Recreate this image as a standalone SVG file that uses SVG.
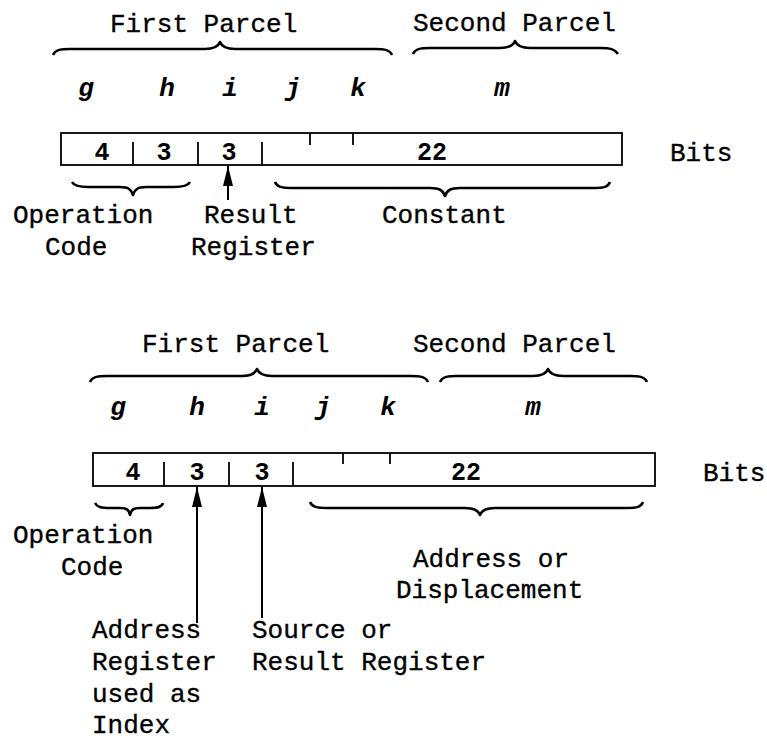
<svg xmlns="http://www.w3.org/2000/svg" width="767" height="740" viewBox="0 0 767 740">
<style>
text{font-family:"Liberation Mono","Courier New",monospace;fill:#000}
.t{font-size:26px;stroke:#000;stroke-width:0.35}
.v{font-size:26px;font-style:italic;font-weight:bold}
.n{font-size:25px;font-weight:bold}
.m{text-anchor:middle}
.br{fill:none;stroke:#000;stroke-width:2.6;stroke-linejoin:round}
.bx{fill:none;stroke:#000;stroke-width:1.8}
.ln{stroke:#000;stroke-width:1.8}
.ar{stroke:#000;stroke-width:2}
</style>
<defs>
<marker id="ah" viewBox="0 0 20 10" refX="20" refY="5" markerWidth="20" markerHeight="10" markerUnits="userSpaceOnUse" orient="auto">
<path d="M20,5 L0,0 L0,10 Z" fill="#000"/>
</marker>
</defs>
<rect width="767" height="740" fill="#fff"/>

<g id="top-format">
<text class="t" x="110" y="32">First Parcel</text>
<text class="t" x="413" y="31">Second Parcel</text>
<path class="br" d="M53,55 C55,50 60,49 70,49 L205,49 C214,49 218,47 220,42 C222,47 226,49 235,49 L375,49 C385,49 390,50 392,55"/>
<path class="br" d="M413,54 C415,49 420,48 430,48 L500,48 C509,48 513,46 515,41 C517,46 521,48 530,48 L600,48 C610,48 615,49 618,54"/>
<text class="v m" x="86" y="96">g</text>
<text class="v m" x="167" y="96">h</text>
<text class="v m" x="230" y="96">i</text>
<text class="v m" x="293" y="96">j</text>
<text class="v m" x="358" y="96">k</text>
<text class="v m" x="502" y="96">m</text>
<rect class="bx" x="61" y="133" width="561" height="32"/>
<line class="ln" x1="133" y1="142" x2="133" y2="165"/>
<line class="ln" x1="198" y1="142" x2="198" y2="165"/>
<line class="ln" x1="262" y1="142" x2="262" y2="165"/>
<line class="ln" x1="310" y1="133" x2="310" y2="145"/>
<line class="ln" x1="353" y1="133" x2="353" y2="145"/>
<text class="n m" x="102" y="160">4</text>
<text class="n m" x="164" y="160">3</text>
<text class="n m" x="229" y="160">3</text>
<text class="n m" x="432" y="160">22</text>
<text class="t" x="670" y="161">Bits</text>
<path class="br" d="M72,182 C74,186 79,187 88,187 L120,187 C128,187 131,189 133,195 C135,189 138,187 146,187 L174,187 C183,187 188,186 190,182"/>
<path class="br" d="M275,182 C277,187 282,188 292,188 L430,188 C439,188 443,190 445,196 C447,190 451,188 460,188 L594,188 C604,188 608,187 610,182"/>
<text class="t" x="13" y="223">Operation</text>
<text class="t" x="45" y="255">Code</text>
<text class="t" x="204" y="223">Result</text>
<text class="t" x="191" y="255">Register</text>
<text class="t" x="382" y="223">Constant</text>
</g>

<g id="bottom-format">
<text class="t" x="142" y="352">First Parcel</text>
<text class="t" x="413" y="352">Second Parcel</text>
<path class="br" d="M90,382 C92,377 97,376 107,376 L242,376 C251,376 255,374 257,369 C259,374 263,376 272,376 L411,376 C421,376 426,377 428,382"/>
<path class="br" d="M440,382 C442,377 447,376 457,376 L533,376 C542,376 546,374 548,369 C550,374 554,376 563,376 L630,376 C640,376 645,377 647,382"/>
<text class="v m" x="118" y="415">g</text>
<text class="v m" x="197" y="415">h</text>
<text class="v m" x="262" y="415">i</text>
<text class="v m" x="323" y="415">j</text>
<text class="v m" x="388" y="415">k</text>
<text class="v m" x="533" y="415">m</text>
<rect class="bx" x="93" y="453" width="562" height="33"/>
<line class="ln" x1="164" y1="462" x2="164" y2="486"/>
<line class="ln" x1="229" y1="462" x2="229" y2="486"/>
<line class="ln" x1="293" y1="462" x2="293" y2="486"/>
<line class="ln" x1="343" y1="453" x2="343" y2="464"/>
<line class="ln" x1="390" y1="453" x2="390" y2="464"/>
<text class="n m" x="133" y="480">4</text>
<text class="n m" x="197" y="480">3</text>
<text class="n m" x="262" y="480">3</text>
<text class="n m" x="466" y="480">22</text>
<text class="t" x="703" y="481">Bits</text>
<path class="br" d="M95,503 C97,507 101,508 110,508 L120,508 C127,508 129,510 130,515 C131,510 133,508 140,508 L150,508 C158,508 162,507 163,503"/>
<path class="br" d="M310,502 C312,507 317,508 327,508 L465,508 C474,508 478,510 480,515 C482,510 486,508 495,508 L627,508 C637,508 641,507 643,502"/>
<text class="t" x="13" y="543">Operation</text>
<text class="t" x="61" y="575">Code</text>
<text class="t" x="413" y="567">Address or</text>
<text class="t" x="396" y="598">Displacement</text>
<text class="t" x="92" y="638">Address</text>
<text class="t" x="92" y="670">Register</text>
<text class="t" x="92" y="702">used as</text>
<text class="t" x="92" y="733">Index</text>
<text class="t" x="252" y="638">Source or</text>
<text class="t" x="252" y="670">Result Register</text>
</g>

<g id="connectors">
<line class="ar" x1="228" y1="200" x2="228" y2="166" marker-end="url(#ah)"/>
<line class="ar" x1="197" y1="623" x2="197" y2="487" marker-end="url(#ah)"/>
<line class="ar" x1="262" y1="618" x2="262" y2="487" marker-end="url(#ah)"/>
</g>
</svg>
